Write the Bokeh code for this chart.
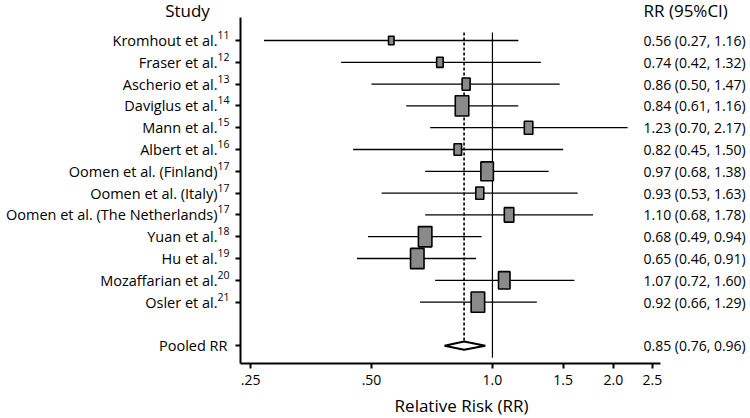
import math
from bokeh.plotting import figure
from bokeh.models import Range1d, FixedTicker, ColumnDataSource, LogAxis, LinearAxis
from bokeh.core.properties import value
from bokeh.embed import file_html
from bokeh.resources import INLINE

# ---------------- data ----------------
studies = ["Kromhout et al.", "Fraser et al.", "Ascherio et al.", "Daviglus et al.",
           "Mann et al.", "Albert et al.", "Oomen et al. (Finland)", "Oomen et al. (Italy)",
           "Oomen et al. (The Netherlands)", "Yuan et al.", "Hu et al.",
           "Mozaffarian et al.", "Osler et al."]
refs = ["11", "12", "13", "14", "15", "16", "17", "17", "17", "18", "19", "20", "21"]
rr = [0.56, 0.74, 0.86, 0.84, 1.23, 0.82, 0.97, 0.93, 1.10, 0.68, 0.65, 1.07, 0.92]
ci_lo = [0.27, 0.42, 0.50, 0.61, 0.70, 0.45, 0.68, 0.53, 0.68, 0.49, 0.46, 0.72, 0.66]
ci_hi = [1.16, 1.32, 1.47, 1.16, 2.17, 1.50, 1.38, 1.63, 1.78, 0.94, 0.91, 1.60, 1.29]
weight = [7, 8, 9.5, 15, 10, 9, 14, 9.5, 11, 15, 15, 13, 15]   # relative study weight (box size)

pooled_label = "Pooled RR"
pooled_rr = 0.85
pooled_lo = 0.76
pooled_hi = 0.96

x_ticks = [0.25, 0.5, 1.0, 1.5, 2.0, 2.5]
x_tick_labels = [".25", ".50", "1.0", "1.5", "2.0", "2.5"]
null_value = 1.0

header_left = "Study"
header_right = "RR (95%CI)"
x_title = "Relative Risk (RR)"

# ---------------- layout constants ----------------
FONT = "Open Sans"
W, H = 750, 418
AX_L_PX, AX_R_PX = 240, 660          # x-axis extent on the canvas
ROW0_PX, ROW_PX = 40, 21.8           # first row centre and row spacing
X_LO, X_HI = 0.236, 2.62             # x-axis bounds (log scale)
Y_AX_TOP, Y_AX_BOT = -1.055, 14.82   # y-axis bounds (rows)
BOX_ASPECT = 1.45
GRAY = "#8a8a8a"

k = math.log2(X_HI / X_LO) / (AX_R_PX - AX_L_PX)
X_FRAME_L = X_LO * 2 ** (-AX_L_PX * k)
X_FRAME_R = X_HI * 2 ** ((W - AX_R_PX) * k)
Y_FRAME_T = -ROW0_PX / ROW_PX
Y_FRAME_B = (H - ROW0_PX) / ROW_PX

n = len(studies)
rows = list(range(n))
pooled_row = n + 1

p = figure(width=W, height=H, x_axis_type="log",
           x_range=Range1d(X_FRAME_L, X_FRAME_R), y_range=Range1d(Y_FRAME_B, Y_FRAME_T),
           x_axis_location=None, y_axis_location=None,
           output_backend="svg", toolbar_location=None, min_border=0)
p.outline_line_color = None
p.grid.visible = False
p.background_fill_color = "white"

xax = LogAxis(fixed_location=Y_AX_BOT, bounds=(X_LO, X_HI), ticker=FixedTicker(ticks=x_ticks))
xax.major_label_overrides = {float(t): l for t, l in zip(x_ticks, x_tick_labels)}
xax.major_label_text_font = FONT
xax.major_label_text_font_size = "14px"
xax.major_label_text_color = "black"
xax.major_label_standoff = 6
yticks = rows + [pooled_row]
yax = LinearAxis(fixed_location=X_LO, bounds=(Y_AX_TOP, Y_AX_BOT), ticker=FixedTicker(ticks=yticks))
yax.major_label_overrides = {float(t): "" for t in yticks}
for ax in (xax, yax):
    ax.axis_line_width = 2
    ax.axis_line_color = "black"
    ax.major_tick_line_width = 2
    ax.major_tick_line_color = "black"
    ax.major_tick_in = 0
    ax.major_tick_out = 5
    ax.minor_tick_line_color = None
p.add_layout(xax, "below")
p.add_layout(yax, "left")

# vertical reference lines
p.segment(x0=[null_value], y0=[-0.37], x1=[null_value], y1=[14.55], line_color="black", line_width=1.2)
p.segment(x0=[pooled_rr], y0=[-0.37], x1=[pooled_rr], y1=[pooled_row - 0.2],
          line_color="black", line_width=1.6, line_dash="3 2")

# CI lines and boxes
src = ColumnDataSource(dict(y=rows, rr=rr, lo=ci_lo, hi=ci_hi,
                            w=[v - 1.5 for v in weight],
                            h=[v * BOX_ASPECT - 1.5 for v in weight]))
p.segment(x0="lo", y0="y", x1="hi", y1="y", source=src, line_color="black", line_width=1.3)
p.rect(x="rr", y="y", width="w", height="h", width_units="screen", height_units="screen",
       source=src, fill_color=GRAY, line_color="black", line_width=1.6)

# pooled diamond
dh = 0.19
p.patch(x=[pooled_lo, pooled_rr, pooled_hi, pooled_rr],
        y=[pooled_row, pooled_row - dh, pooled_row, pooled_row + dh],
        fill_color="white", line_color="black", line_width=2)

TXT = dict(text_font=value(FONT), text_color="black", text_baseline="middle")

# study labels with superscript references
p.text(x=[X_LO] * n, y=rows, text=studies, x_offset=-23, text_align="right",
       text_font_size="14.5px", **TXT)
p.text(x=[X_LO] * n, y=[r - 0.25 for r in rows], text=refs, x_offset=-11, text_align="right",
       text_font_size="10.5px", **TXT)
p.text(x=[X_LO], y=[pooled_row], text=[pooled_label], x_offset=-13, text_align="right",
       text_font_size="14.5px", **TXT)

# RR column
rr_text = [f"{a:.2f} ({b:.2f}, {c:.2f})" for a, b, c in zip(rr, ci_lo, ci_hi)]
rr_text.append(f"{pooled_rr:.2f} ({pooled_lo:.2f}, {pooled_hi:.2f})")
p.text(x=[X_HI] * (n + 1), y=rows + [pooled_row], text=rr_text, x_offset=-17,
       text_align="left", text_font_size="14px", **TXT)

# headers and axis title
HEADER_Y = -1.38
p.text(x=[X_LO], y=[HEADER_Y], text=[header_left], x_offset=-53, text_align="center",
       text_font_size="17px", **TXT)
p.text(x=[X_HI], y=[HEADER_Y], text=[header_right], x_offset=-17, text_align="left",
       text_font_size="17px", **TXT)
p.text(x=[X_LO], y=[16.75], text=[x_title], x_offset=221, text_align="center",
       text_font_size="17px", **TXT)

open("out.html", "w").write(file_html(p, INLINE))
